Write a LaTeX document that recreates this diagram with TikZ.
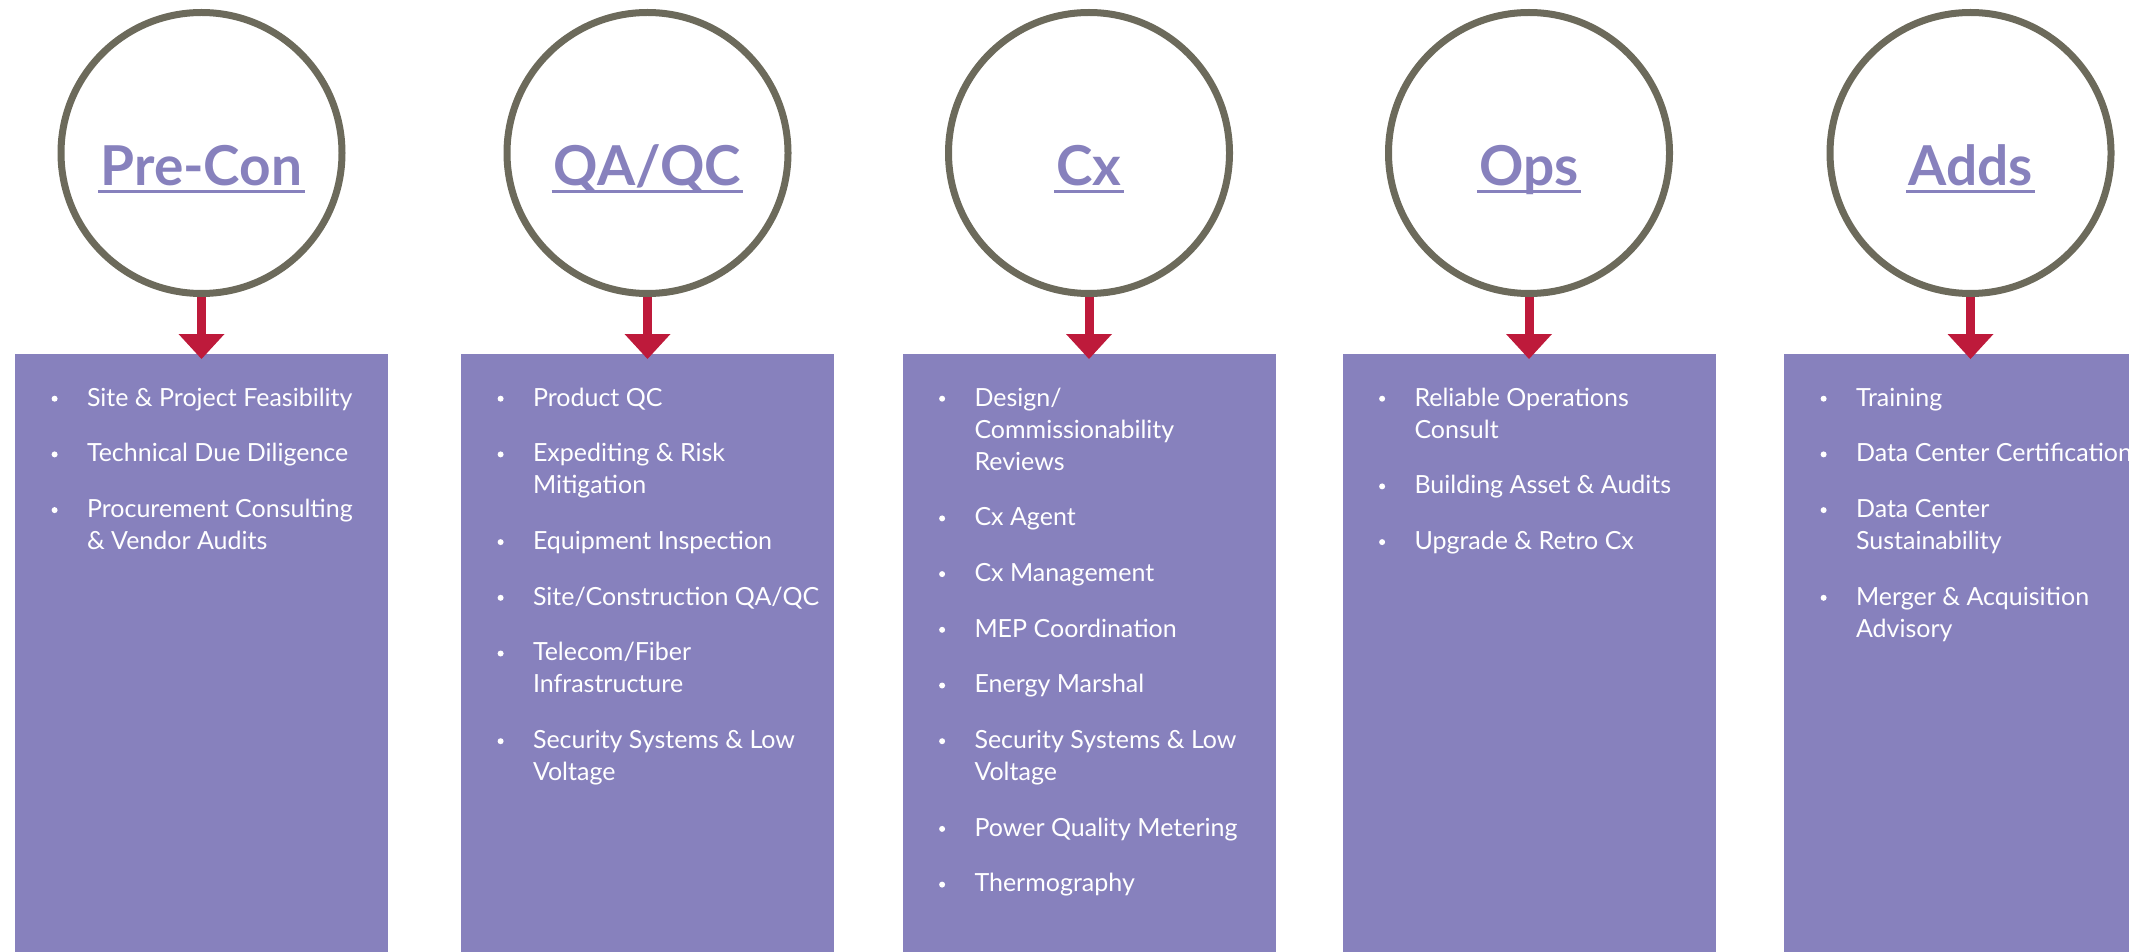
\documentclass[tikz,border=0pt]{standalone}
\usepackage{fontspec}
\setmainfont{Lato}
\usetikzlibrary{arrows.meta}
\definecolor{ringgray}{HTML}{6C6A5B}
\definecolor{boxpurple}{HTML}{8781BD}
\definecolor{arrowred}{HTML}{BE1A3B}
\tikzset{
  ring/.style={circle,draw=ringgray,line width=3.5pt,fill=white,minimum size=140.5pt,inner sep=0pt},
  hdr/.style={font=\fontsize{27.5}{30}\selectfont\bfseries,text=boxpurple,inner sep=0pt,anchor=base},
  panel/.style={fill=boxpurple,minimum width=186.5pt,minimum height=320pt,inner sep=0pt,anchor=north},
  drop/.style={draw=arrowred,line width=4.5pt,-{Triangle[width=23pt,length=12.5pt,line width=0pt]}},
  entry/.style={font=\fontsize{12.5}{16}\selectfont,text=white,inner sep=0pt,anchor=base west},
  dot/.style={circle,fill=white,minimum size=3pt,inner sep=0pt}
}
\begin{document}
\begin{tikzpicture}[x=0.5pt,y=-0.5pt]
\useasboundingbox (0,0) rectangle (2129,952);
% circles, arrows and boxes
\foreach \n/\x/\t in {1/201.5/Pre-Con,2/647.5/{QA/QC},3/1089/Cx,4/1529/Ops,5/1970.5/Adds}{
  \node[panel] (b\n) at (\x,354) {};
  \node[ring] (c\n) at (\x,153) {};
  \node[hdr] (h\n) at (\x,186) {\t};
  \draw[boxpurple,line width=1.3pt] ([shift={(-2,5.5)}]h\n.base west) -- ([shift={(2,5.5)}]h\n.base east);
  \draw[drop] (c\n.south) -- ([yshift=-2.5pt]b\n.north);
}
% bullet lines: box / offset / bullet / text
\foreach \b/\d/\f/\s [count=\k] in {
  1/52/1/{Site \& Project Feasibility},1/107.7/1/{Technical Due Diligence},
  1/163.4/1/{Procurement Consulting},1/195.4/0/{\& Vendor Audits},
  2/52/1/{Product QC},2/107.7/1/{Expediting \& Risk},2/139.7/0/{Mitigation},
  2/195.4/1/{Equipment Inspection},2/251.1/1/{Site/Construction QA/QC},
  2/306.8/1/{Telecom/Fiber},2/338.8/0/{Infrastructure},
  2/394.5/1/{Security Systems \& Low},2/426.5/0/{Voltage},
  3/52/1/{Design/},3/84/0/{Commissionability},3/116/0/{Reviews},
  3/171.7/1/{Cx Agent},3/227.4/1/{Cx Management},3/283.1/1/{MEP Coordination},
  3/338.8/1/{Energy Marshal},3/394.5/1/{Security Systems \& Low},3/426.5/0/{Voltage},
  3/482.2/1/{Power Quality Metering},3/537.9/1/{Thermography},
  4/52/1/{Reliable Operations},4/84/0/{Consult},
  4/139.7/1/{Building Asset \& Audits},4/195.4/1/{Upgrade \& Retro Cx},
  5/52/1/{Training},5/107.7/1/{Data Center Certification},
  5/163.4/1/{Data Center},5/195.4/0/{Sustainability},
  5/251.1/1/{Merger \& Acquisition},5/283.1/0/{Advisory}}{
  \node[entry] (t\k) at ([shift={(72,\d)}]b\b.north west) {\s};
  \ifnum\f=1 \node[dot] (d\k) at ([shift={(40,\d-7.3)}]b\b.north west) {};\fi
}
\end{tikzpicture}
\end{document}
